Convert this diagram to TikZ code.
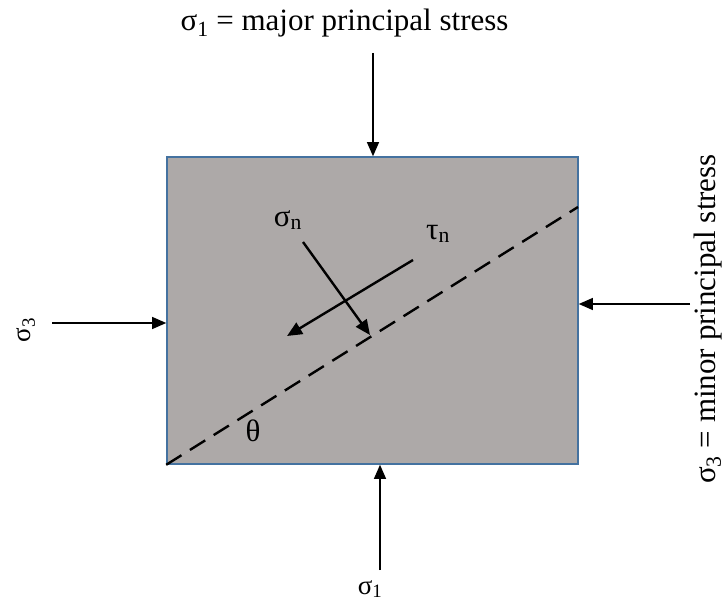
\documentclass[tikz,border=0pt]{standalone}
\usepackage{fontspec}
\setmainfont{Liberation Serif}
\usepackage{tikz}
\usetikzlibrary{arrows.meta}
\definecolor{rockgray}{RGB}{173,169,168}
\definecolor{edgeblue}{RGB}{68,114,160}
\tikzset{block/.style = {draw = edgeblue, fill = rockgray, line width = 1.6pt, minimum width = 411pt, minimum height = 307pt, inner sep = 0pt}}
\tikzset{load/.style = {-{Triangle[length = 14pt, width = 12pt]}, line width = 1.1pt}}
\tikzset{force/.style = {-{Triangle[length = 15pt, width = 13pt]}, line width = 2.4pt}}
\tikzset{plane/.style = {line width = 2.4pt, dash pattern = on 18pt off 10pt}}
\tikzset{lbl/.style = {font = \fontsize{27}{32}\selectfont, inner sep = 0pt}}
\tikzset{biglbl/.style = {font = \fontsize{31}{36}\selectfont, inner sep = 0pt}}

\begin{document}
\begin{tikzpicture}[x = 1pt, y = -1pt]
				\useasboundingbox (0, 0) rectangle (726, 602);
				\node[block] (blk) at (372.5, 310.5) {};

				\node[biglbl, anchor = base] (top) at (344.5, 31) {σ\textsubscript{1} = major principal stress};
				\node[lbl, anchor = base] (bot) at (370, 594) {σ\textsubscript{1}};
				\node[lbl, rotate = 90] (lft) at (26, 330) {σ\textsubscript{3}};
				\node[biglbl, rotate = 90, anchor = base] (rgt) at (715, 319) {σ\textsubscript{3} = minor principal stress};
				\node[biglbl] (sn) at (288, 220) {σ\textsubscript{n}};
				\node[biglbl] (tn) at (438, 234) {τ\textsubscript{n}};
				\node[biglbl] (th) at (253, 431) {θ};

				\coordinate (t1) at (373, 53);
				\coordinate (b1) at (380, 570);
				\coordinate (l3) at (52, 323);
				\coordinate (r3) at (690, 304);
				\coordinate (sn1) at (303, 242);
				\coordinate (sn2) at (370, 335);
				\coordinate (tn1) at (413, 260);
				\coordinate (tn2) at (287, 336);
				\coordinate (pl) at (578, 207);

				\draw[load] (t1) to (t1 |- blk.north);
				\draw[load] (b1) to (b1 |- blk.south);
				\draw[load] (l3) to (l3 -| blk.west);
				\draw[load] (r3) to (r3 -| blk.east);
				\draw[plane] (blk.south west) to (pl);
				\draw[force] (sn1) to (sn2);
				\draw[force] (tn1) to (tn2);
			\end{tikzpicture}
\end{document}
